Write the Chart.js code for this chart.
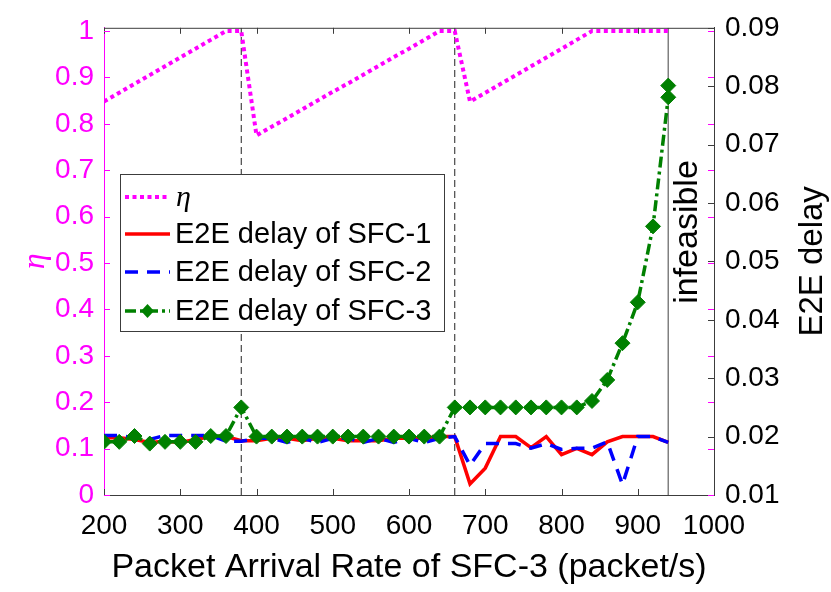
<!DOCTYPE html>
<html>
<head>
<meta charset="utf-8">
<script src="https://cdn.jsdelivr.net/npm/chart.js@4.4.0/dist/chart.umd.min.js"></script>
<style>
  html, body { margin: 0; padding: 0; background: #fff; }
  #wrap { width: 831px; height: 592px; }
</style>
</head>
<body>
<div id="wrap"><canvas id="delayChart" width="831" height="592"></canvas></div>
<script>
// packet arrival rate of SFC-3 (x axis)
const arrivalRates = [200, 220, 240, 260, 280, 300, 320, 340, 360, 380,
                      400, 420, 440, 460, 480, 500, 520, 540, 560, 580,
                      600, 620, 640, 660, 680, 700, 720, 740, 760, 780,
                      800, 820, 840, 860, 880, 900, 920, 940];

// eta (left axis)
const etaValues = [0.848, 0.867, 0.886, 0.905, 0.924, 0.943, 0.962, 0.981, 1, 1,
                   0.775, 0.794, 0.812, 0.831, 0.850, 0.869, 0.887, 0.906, 0.925, 0.944,
                   0.962, 0.981, 1, 1, 0.848, 0.867, 0.886, 0.905, 0.924, 0.943,
                   0.962, 0.981, 1, 1, 1, 1, 1, 1];

// E2E delay (right axis)
const delaySfc1 = [0.0198, 0.0198, 0.0195, 0.0190, 0.0192, 0.0190, 0.0195, 0.0200, 0.0200, 0.0193,
                   0.0193, 0.0197, 0.0197, 0.0193, 0.0197, 0.0197, 0.0193, 0.0193, 0.0193, 0.0197,
                   0.0197, 0.0197, 0.0200, 0.0200, 0.0119, 0.0146, 0.0200, 0.0200, 0.0181, 0.0200,
                   0.0169, 0.0180, 0.0169, 0.0191, 0.0200, 0.0200, 0.0200, 0.0190];
const delaySfc2 = [0.0202, 0.0202, 0.0198, 0.0195, 0.0202, 0.0202, 0.0202, 0.0202, 0.0192, 0.0192,
                   0.0197, 0.0197, 0.0190, 0.0197, 0.0190, 0.0197, 0.0197, 0.0190, 0.0197, 0.0190,
                   0.0197, 0.0190, 0.0197, 0.0200, 0.0151, 0.0188, 0.0188, 0.0188, 0.0180, 0.0188,
                   0.0178, 0.0180, 0.0180, 0.0191, 0.0118, 0.0200, 0.0200, 0.0190];
// SFC-3 has two results at 940
const sfc3Rates = arrivalRates.concat([940]);
const delaySfc3 = [0.0191, 0.0191, 0.0201, 0.0188, 0.0191, 0.0191, 0.0191, 0.0201, 0.0201, 0.0250,
                   0.0200, 0.0200, 0.0200, 0.0200, 0.0200, 0.0200, 0.0200, 0.0200, 0.0200, 0.0200,
                   0.0200, 0.0200, 0.0200, 0.0250, 0.0250, 0.0250, 0.0250, 0.0250, 0.0250, 0.0250,
                   0.0250, 0.0250, 0.0261, 0.0297, 0.0360, 0.0430, 0.0560, 0.0781, 0.0801];

const rateTicks = [200, 300, 400, 500, 600, 700, 800, 900, 1000];
const etaTicks = [0, 0.1, 0.2, 0.3, 0.4, 0.5, 0.6, 0.7, 0.8, 0.9, 1];
const delayTicks = [0.01, 0.02, 0.03, 0.04, 0.05, 0.06, 0.07, 0.08, 0.09];

const markerRates = [380, 660];
const infeasibleRate = 940;

const MAGENTA = '#ff00ff';
const FRAME = '#3c3c3c';
const FONT = '"Liberation Sans", Arial, sans-serif';
const SERIF = '"Liberation Serif", "DejaVu Serif", serif';

function pairs(xs, ys) {
    return xs.map((x, i) => ({ x: x, y: ys[i] }));
}

const datasets = [
    {
        label: 'η',
        data: pairs(arrivalRates, etaValues),
        yAxisID: 'y',
        borderColor: MAGENTA,
        borderWidth: 4,
        borderDash: [4, 3.5],
        pointRadius: 0,
        order: 3
    },
    {
        label: 'E2E delay of SFC-1',
        data: pairs(arrivalRates, delaySfc1),
        yAxisID: 'y1',
        borderColor: '#ff0000',
        borderWidth: 3.5,
        pointRadius: 0,
        order: 2
    },
    {
        label: 'E2E delay of SFC-2',
        data: pairs(arrivalRates, delaySfc2),
        yAxisID: 'y1',
        borderColor: '#0000ff',
        borderWidth: 3.5,
        borderDash: [13, 9],
        pointRadius: 0,
        order: 1
    },
    {
        label: 'E2E delay of SFC-3',
        data: pairs(sfc3Rates, delaySfc3),
        yAxisID: 'y1',
        borderColor: '#008000',
        backgroundColor: '#008000',
        borderWidth: 3.5,
        borderDash: [11, 4, 3, 4],
        pointStyle: 'rectRot',
        pointRadius: 7.5,
        pointBorderWidth: 1,
        order: 0
    }
];

// dashed markers and the infeasible boundary
markerRates.forEach(r => {
    datasets.push({
        label: '_marker',
        data: [{ x: r, y: 0.01 }, { x: r, y: 0.09 }],
        yAxisID: 'y1',
        borderColor: '#222',
        borderWidth: 1,
        borderDash: [7, 4],
        pointRadius: 0,
        order: 5
    });
});
datasets.push({
    label: '_infeasible',
    data: [{ x: infeasibleRate, y: 0.01 }, { x: infeasibleRate, y: 0.09 }],
    yAxisID: 'y1',
    borderColor: '#808080',
    borderWidth: 1.5,
    pointRadius: 0,
    order: 5
});

function strokeLine(ctx, x1, y1, x2, y2) {
    ctx.beginPath();
    ctx.moveTo(x1, y1);
    ctx.lineTo(x2, y2);
    ctx.stroke();
}

const framePlugin = {
    id: 'frame',
    afterDatasetsDraw(chart) {
        const { ctx, chartArea: a, scales } = chart;
        const tick = 6;
        ctx.save();
        ctx.lineWidth = 1;
        ctx.strokeStyle = FRAME;
        strokeLine(ctx, a.left, a.top + 0.5, a.right, a.top + 0.5);

        rateTicks.forEach(v => {
            const px = Math.round(scales.x.getPixelForValue(v)) + 0.5;
            strokeLine(ctx, px, a.bottom, px, a.bottom - tick);
            strokeLine(ctx, px, a.top, px, a.top + tick);
        });
        delayTicks.forEach(v => {
            const py = Math.round(scales.y1.getPixelForValue(v)) + 0.5;
            strokeLine(ctx, a.right, py, a.right - tick, py);
        });
        ctx.strokeStyle = MAGENTA;
        etaTicks.forEach(v => {
            const py = Math.round(scales.y.getPixelForValue(v)) + 0.5;
            strokeLine(ctx, a.left, py, a.left + tick, py);
            strokeLine(ctx, a.right, py, a.right - tick, py);
        });
        ctx.restore();
    },
    afterDraw(chart) {
        const { ctx, chartArea: a, scales } = chart;
        ctx.save();

        // rotated texts
        ctx.fillStyle = '#000';
        ctx.textAlign = 'center';
        ctx.textBaseline = 'middle';
        ctx.font = '34px ' + FONT;
        const ix = scales.x.getPixelForValue(infeasibleRate) + 19;
        ctx.save();
        ctx.translate(ix, 232);
        ctx.rotate(-Math.PI / 2);
        ctx.fillText('infeasible', 0, 0);
        ctx.restore();

        ctx.font = '33px ' + FONT;
        ctx.save();
        ctx.translate(813, (a.top + a.bottom) / 2);
        ctx.rotate(-Math.PI / 2);
        ctx.fillText('E2E delay', 0, 0);
        ctx.restore();

        // legend box
        const box = { x: 120, y: 174, w: 324, h: 157 };
        ctx.fillStyle = '#fff';
        ctx.fillRect(box.x, box.y, box.w, box.h);
        ctx.strokeStyle = FRAME;
        ctx.lineWidth = 1;
        ctx.strokeRect(box.x + 0.5, box.y + 0.5, box.w, box.h);

        const rowY = [197, 234, 272, 311];
        const shown = chart.data.datasets.filter(d => !d.label.startsWith('_'));
        shown.forEach((ds, i) => {
            const y = rowY[i];
            ctx.save();
            ctx.strokeStyle = ds.borderColor;
            ctx.lineWidth = ds.borderWidth;
            ctx.setLineDash(ds.borderDash || []);
            strokeLine(ctx, 125, y, 170, y);
            ctx.restore();
            if (ds.pointStyle) {
                ctx.save();
                ctx.fillStyle = ds.backgroundColor;
                ctx.beginPath();
                ctx.moveTo(147.5, y - 7);
                ctx.lineTo(154, y);
                ctx.lineTo(147.5, y + 7);
                ctx.lineTo(141, y);
                ctx.closePath();
                ctx.fill();
                ctx.restore();
            }
            ctx.fillStyle = '#000';
            ctx.textAlign = 'left';
            ctx.textBaseline = 'middle';
            if (ds.label === 'η') {
                ctx.font = 'italic 30px ' + SERIF;
                ctx.fillText(ds.label, 176, y + 1);
            } else {
                ctx.font = '29px ' + FONT;
                ctx.fillText(ds.label, 175, y + 1);
            }
        });
        ctx.restore();
    }
};

const ctx = document.getElementById('delayChart').getContext('2d');

new Chart(ctx, {
    type: 'line',
    data: { datasets: datasets },
    options: {
        responsive: false,
        animation: false,
        layout: { padding: { top: 11, left: 0, right: 0, bottom: 0 } },
        plugins: {
            legend: { display: false },
            tooltip: { enabled: false }
        },
        scales: {
            x: {
                type: 'linear',
                min: 200,
                max: 1000,
                afterBuildTicks: s => { s.ticks = rateTicks.map(v => ({ value: v })); },
                afterFit: s => { s.height = 97; },
                grid: { drawOnChartArea: false, drawTicks: false },
                border: { color: FRAME, width: 1 },
                ticks: {
                    color: '#000',
                    padding: 14,
                    font: { family: FONT, size: 28 },
                    callback: v => String(v)
                },
                title: {
                    display: true,
                    text: 'Packet Arrival Rate of SFC-3 (packet/s)',
                    color: '#000',
                    font: { family: FONT, size: 34 },
                    padding: { top: 0, bottom: 4 }
                }
            },
            y: {
                type: 'linear',
                position: 'left',
                min: 0,
                max: 1.007,
                afterBuildTicks: s => { s.ticks = etaTicks.map(v => ({ value: v })); },
                afterFit: s => { s.width = 104; },
                grid: { drawOnChartArea: false, drawTicks: false },
                border: { color: MAGENTA, width: 1 },
                ticks: {
                    color: MAGENTA,
                    padding: 10,
                    font: { family: FONT, size: 28 },
                    callback: v => String(+v.toFixed(1))
                },
                title: {
                    display: true,
                    text: 'η',
                    color: MAGENTA,
                    font: { family: SERIF, size: 32, style: 'italic' },
                    padding: { top: 16, bottom: 0 }
                }
            },
            y1: {
                type: 'linear',
                position: 'right',
                min: 0.01,
                max: 0.09,
                afterBuildTicks: s => { s.ticks = delayTicks.map(v => ({ value: v })); },
                afterFit: s => { s.width = 117; },
                grid: { drawOnChartArea: false, drawTicks: false },
                border: { color: FRAME, width: 1 },
                ticks: {
                    color: '#000',
                    padding: 11,
                    font: { family: FONT, size: 28 },
                    callback: v => v.toFixed(2)
                }
            }
        }
    },
    plugins: [framePlugin]
});
</script>
</body>
</html>
